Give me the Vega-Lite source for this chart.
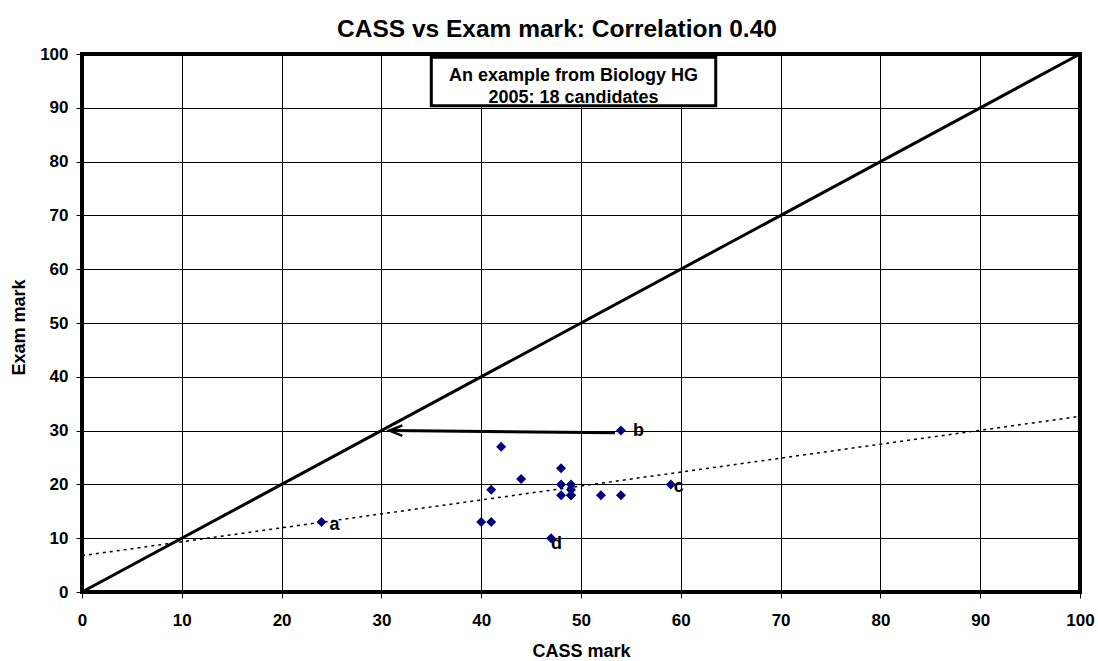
{
  "$schema": "https://vega.github.io/schema/vega-lite/v6.json",
  "width": 998,
  "height": 538,
  "autosize": {"type": "none"},
  "padding": {"left": 82, "top": 54, "right": 18, "bottom": 69},
  "background": "white",
  "config": {
    "font": "Liberation Sans",
    "view": {"stroke": "black", "strokeWidth": 4},
    "axis": {
      "grid": true,
      "gridColor": "black",
      "gridWidth": 1,
      "gridOpacity": 1,
      "domain": false,
      "labelFlush": false,
      "labelOverlap": false,
      "tickColor": "black",
      "tickSize": 6,
      "tickWidth": 1,
      "labelFont": "Liberation Sans",
      "labelFontSize": 17,
      "labelFontWeight": "bold",
      "labelColor": "black",
      "titleFont": "Liberation Sans",
      "titleFontSize": 18,
      "titleFontWeight": "bold",
      "titleColor": "black"
    }
  },
  "title": {
    "text": "CASS vs Exam mark: Correlation 0.40",
    "font": "Liberation Sans",
    "fontSize": 24.5,
    "fontWeight": "bold",
    "color": "black",
    "anchor": "middle",
    "frame": "group",
    "dx": -24,
    "dy": 33,
    "baseline": "alphabetic",
    "offset": 17
  },
  "datasets": {
    "points": [
      {"cass": 24, "exam": 13},
      {"cass": 40, "exam": 13},
      {"cass": 41, "exam": 13},
      {"cass": 41, "exam": 19},
      {"cass": 42, "exam": 27},
      {"cass": 44, "exam": 21},
      {"cass": 47, "exam": 10},
      {"cass": 48, "exam": 23},
      {"cass": 48, "exam": 20},
      {"cass": 48, "exam": 18},
      {"cass": 49, "exam": 20},
      {"cass": 49, "exam": 19},
      {"cass": 49, "exam": 18},
      {"cass": 49, "exam": 18},
      {"cass": 52, "exam": 18},
      {"cass": 54, "exam": 18},
      {"cass": 54, "exam": 30},
      {"cass": 59, "exam": 20}
    ],
    "labels": [
      {"cass": 24, "exam": 13, "label": "a"},
      {"cass": 54, "exam": 30, "label": "b"},
      {"cass": 59, "exam": 20, "label": "c"},
      {"cass": 47, "exam": 10, "label": "d"}
    ],
    "diag": [
      {"cass": 0, "exam": 0},
      {"cass": 100, "exam": 100}
    ],
    "trend": [
      {"cass": 0, "exam": 6.75},
      {"cass": 100, "exam": 32.65}
    ],
    "arrow": [
      {"cass": 53.4, "exam": 29.6},
      {"cass": 30.8, "exam": 30.0}
    ],
    "arrowhead": [
      {"cass": 30.8, "exam": 30.0}
    ],
    "box": [
      {"x1": 35.0, "x2": 63.5, "y1": 90.4, "y2": 99.4}
    ],
    "boxtext": [
      {"cass": 49.25, "exam": 96.0, "text": "An example from Biology HG"},
      {"cass": 49.25, "exam": 91.9, "text": "2005: 18 candidates"}
    ]
  },
  "encoding": {
    "x": {
      "field": "cass",
      "type": "quantitative",
      "scale": {"domain": [0, 100], "nice": false, "zero": false},
      "axis": {
        "values": [0, 10, 20, 30, 40, 50, 60, 70, 80, 90, 100],
        "title": "CASS mark",
        "labelBaseline": "alphabetic",
        "labelPadding": 27.5,
        "titleBaseline": "alphabetic",
        "titleY": 64.7
      }
    },
    "y": {
      "field": "exam",
      "type": "quantitative",
      "scale": {"domain": [0, 100], "nice": false, "zero": false},
      "axis": {
        "values": [0, 10, 20, 30, 40, 50, 60, 70, 80, 90, 100],
        "title": "Exam mark",
        "labelPadding": 8,
        "titleAngle": 270,
        "titleAlign": "center",
        "titleBaseline": "alphabetic",
        "titleX": -58,
        "titleY": 273
      }
    }
  },
  "layer": [
    {
      "data": {"name": "trend"},
      "mark": {"type": "line", "color": "black", "strokeWidth": 1.5, "strokeDash": [3, 4]}
    },
    {
      "data": {"name": "diag"},
      "mark": {"type": "line", "color": "black", "strokeWidth": 3}
    },
    {
      "data": {"name": "box"},
      "mark": {"type": "rect", "fill": "white", "stroke": "black", "strokeWidth": 3},
      "encoding": {
        "x": {"field": "x1", "type": "quantitative"},
        "x2": {"field": "x2"},
        "y": {"field": "y1", "type": "quantitative"},
        "y2": {"field": "y2"}
      }
    },
    {
      "data": {"name": "boxtext"},
      "mark": {"type": "text", "font": "Liberation Sans", "fontSize": 18, "fontWeight": "bold", "color": "black", "align": "center", "baseline": "middle"},
      "encoding": {"text": {"field": "text"}}
    },
    {
      "data": {"name": "arrow"},
      "mark": {"type": "line", "color": "black", "strokeWidth": 3}
    },
    {
      "data": {"name": "arrowhead"},
      "mark": {"type": "point", "shape": "M1,-0.4L0,0L1,0.4", "size": 676, "filled": false, "stroke": "black", "strokeWidth": 2.5, "opacity": 1}
    },
    {
      "data": {"name": "points"},
      "mark": {"type": "point", "shape": "diamond", "size": 100, "filled": true, "color": "#000080", "opacity": 1}
    },
    {
      "data": {"name": "labels"},
      "transform": [{"filter": "datum.label === 'a'"}],
      "mark": {"type": "text", "fontSize": 18, "fontWeight": "bold", "color": "black", "align": "left", "baseline": "alphabetic", "dx": 8, "dy": 8},
      "encoding": {"text": {"field": "label"}}
    },
    {
      "data": {"name": "labels"},
      "transform": [{"filter": "datum.label === 'b'"}],
      "mark": {"type": "text", "fontSize": 18, "fontWeight": "bold", "color": "black", "align": "left", "baseline": "alphabetic", "dx": 12, "dy": 5},
      "encoding": {"text": {"field": "label"}}
    },
    {
      "data": {"name": "labels"},
      "transform": [{"filter": "datum.label === 'c'"}],
      "mark": {"type": "text", "fontSize": 18, "fontWeight": "bold", "color": "black", "align": "left", "baseline": "alphabetic", "dx": 3, "dy": 8},
      "encoding": {"text": {"field": "label"}}
    },
    {
      "data": {"name": "labels"},
      "transform": [{"filter": "datum.label === 'd'"}],
      "mark": {"type": "text", "fontSize": 18, "fontWeight": "bold", "color": "black", "align": "left", "baseline": "alphabetic", "dx": 0, "dy": 11},
      "encoding": {"text": {"field": "label"}}
    }
  ]
}
